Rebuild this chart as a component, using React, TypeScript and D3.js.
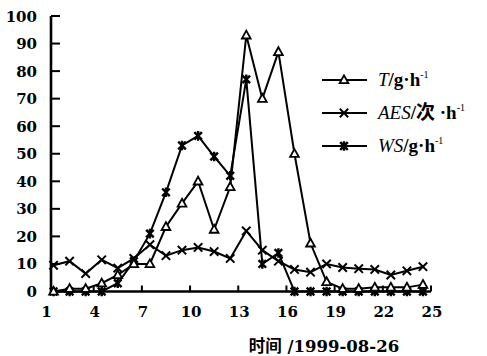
import React from "react";
import * as d3 from "d3";

const hours = [1.5, 2.5, 3.5, 4.5, 5.5, 6.5, 7.5, 8.5, 9.5, 10.5, 11.5, 12.5, 13.5, 14.5, 15.5, 16.5, 17.5, 18.5, 19.5, 20.5, 21.5, 22.5, 23.5, 24.5];
const seriesT = [0, 1, 1, 3, 6, 10, 10, 23.5, 32, 40, 22.5, 38, 93, 70, 87, 50, 17.5, 3.5, 1, 1, 1.5, 1.5, 1.5, 2.5];
const seriesAES = [9.5, 11, 6.5, 11.5, 8.5, 12, 17, 13, 15, 16, 14.5, 12, 22, 15, 11, 8, 7, 10, 8.7, 8.3, 8, 6, 7.5, 9];
const seriesWS = [0, 0, 0, 0, 3, 11, 21, 36, 53, 56.5, 49, 42, 77, 10, 14, 0, 0, 0, 0, 0, 0, 0, 0, 0];
const xTicks = [1, 4, 7, 10, 13, 16, 19, 22, 25];
const yTicks = [0, 10, 20, 30, 40, 50, 60, 70, 80, 90, 100];
const xTitle = "时间 /1999-08-26";

const W = 487;
const H = 356;
const x = d3.scaleLinear().domain([1, 25]).range([45.5, 431]);
const y = d3.scaleLinear().domain([0, 100]).range([291.5, 16]);
const axisX = 51;

const tickFont = "'DejaVu Serif', serif";

function Tri({ cx, cy }: { cx: number; cy: number }) {
  const s = 4.6;
  return (
    <path
      d={`M${cx},${cy - s}L${cx + s * 0.95},${cy + s * 0.7}L${cx - s * 0.95},${cy + s * 0.7}Z`}
      fill="#fff"
      stroke="#000"
      strokeWidth={1.8}
    />
  );
}
function Cross({ cx, cy }: { cx: number; cy: number }) {
  const s = 4.2;
  return (
    <path
      d={`M${cx - s},${cy - s}L${cx + s},${cy + s}M${cx - s},${cy + s}L${cx + s},${cy - s}`}
      stroke="#000"
      strokeWidth={2}
    />
  );
}
function Star({ cx, cy }: { cx: number; cy: number }) {
  const s = 3.8;
  return (
    <path
      d={`M${cx - s},${cy - s}L${cx + s},${cy + s}M${cx - s},${cy + s}L${cx + s},${cy - s}M${cx},${cy - s - 1}L${cx},${cy + s + 1}`}
      stroke="#000"
      strokeWidth={2.4}
    />
  );
}

export default function App() {
  const line = d3
    .line<number>()
    .x((_, i) => x(hours[i]))
    .y((d) => y(d));

  const legend = [
    { y: 80, M: Tri, label: [["T", true], ["/g·h", false]], sup: "-1" },
    { y: 113, M: Cross, label: [["AES", true], ["/次 ·h", false]], sup: "-1" },
    { y: 146, M: Star, label: [["WS", true], ["/g·h", false]], sup: "-1" },
  ];

  return (
    <svg width={W} height={H} style={{ position: "absolute", left: 0, top: 0, background: "#fff" }}>
      <rect width={W} height={H} fill="#fff" />
      {/* axes */}
      <line x1={axisX} y1={y(100)} x2={axisX} y2={y(0) + 1} stroke="#000" strokeWidth={2.6} />
      <line x1={axisX - 1} y1={y(0)} x2={x(25)} y2={y(0)} stroke="#000" strokeWidth={2.6} />
      {yTicks.map((t) => (
        <g key={t}>
          <line x1={axisX} x2={axisX + 9} y1={y(t)} y2={y(t)} stroke="#000" strokeWidth={2} />
          <text
            x={37}
            y={y(t) + 5.5}
            textAnchor="end"
            fontFamily={tickFont}
            fontWeight="bold"
            fontSize={15}
          >
            {t}
          </text>
        </g>
      ))}
      {xTicks.map((t) => (
        <g key={t}>
          {t > 1 && <line x1={x(t)} x2={x(t)} y1={y(0)} y2={y(0) - 6} stroke="#000" strokeWidth={2} />}
          <text
            x={x(t) + 1}
            y={317}
            textAnchor="middle"
            fontFamily={tickFont}
            fontWeight="bold"
            fontSize={15}
          >
            {t}
          </text>
        </g>
      ))}
      <text
        x={324}
        y={352}
        textAnchor="middle"
        fontFamily="'DejaVu Serif', 'Noto Sans CJK SC', serif"
        fontWeight="bold"
        fontSize={16.5}
      >
        {xTitle}
      </text>

      {/* series lines */}
      <path d={line(seriesAES) || ""} fill="none" stroke="#000" strokeWidth={2} />
      <path d={line(seriesWS) || ""} fill="none" stroke="#000" strokeWidth={2} />
      <path d={line(seriesT) || ""} fill="none" stroke="#000" strokeWidth={2} />
      {seriesAES.map((v, i) => (
        <Cross key={"a" + i} cx={x(hours[i])} cy={y(v)} />
      ))}
      {seriesWS.map((v, i) => (
        <Star key={"w" + i} cx={x(hours[i])} cy={y(v)} />
      ))}
      {seriesT.map((v, i) => (
        <Tri key={"t" + i} cx={x(hours[i])} cy={y(v)} />
      ))}

      {/* legend */}
      {legend.map((l, i) => {
        const M = l.M;
        return (
          <g key={i}>
            <line x1={322} x2={367} y1={l.y} y2={l.y} stroke="#000" strokeWidth={2} />
            <M cx={344} cy={l.y} />
            <text
              x={378}
              y={l.y + 6}
              fontFamily="'Liberation Serif', 'Noto Sans CJK SC', serif"
              fontWeight="bold"
              fontSize={19}
            >
              {l.label.map(([s, it], j) => (
                <tspan key={j} fontStyle={it ? "italic" : "normal"} fontWeight={it ? "normal" : "bold"}>
                  {s as string}
                </tspan>
              ))}
              <tspan fontSize={10} dy={-8} fontWeight="normal">
                {l.sup}
              </tspan>
            </text>
          </g>
        );
      })}
    </svg>
  );
}
